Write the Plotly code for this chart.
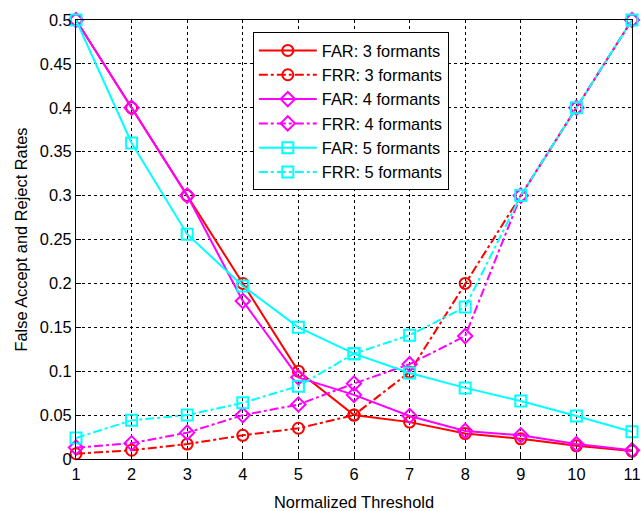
import plotly.graph_objects as go

thresholds = [1, 2, 3, 4, 5, 6, 7, 8, 9, 10, 11]
far3 = [0.5, 0.4, 0.3, 0.2, 0.1, 0.05, 0.042, 0.029, 0.023, 0.015, 0.009]
frr3 = [0.006, 0.010, 0.017, 0.027, 0.035, 0.05, 0.099, 0.2, 0.3, 0.4, 0.5]
far4 = [0.5, 0.4, 0.3, 0.18, 0.093, 0.073, 0.049, 0.032, 0.027, 0.017, 0.010]
frr4 = [0.013, 0.018, 0.030, 0.050, 0.062, 0.086, 0.108, 0.14, 0.3, 0.4, 0.5]
far5 = [0.5, 0.36, 0.256, 0.197, 0.15, 0.12, 0.098, 0.081, 0.066, 0.049, 0.031]
frr5 = [0.024, 0.044, 0.050, 0.064, 0.083, 0.12, 0.141, 0.173, 0.3, 0.4, 0.5]
ytick_vals = [0, 0.05, 0.1, 0.15, 0.2, 0.25, 0.3, 0.35, 0.4, 0.45, 0.5]
ytick_text = ["0", "0.05", "0.1", "0.15", "0.2", "0.25", "0.3", "0.35", "0.4", "0.45", "0.5"]

series = [
    ("FAR: 3 formants", far3, "red", "solid", "circle-open"),
    ("FRR: 3 formants", frr3, "red", "dashdot", "circle-open"),
    ("FAR: 4 formants", far4, "magenta", "solid", "diamond-open"),
    ("FRR: 4 formants", frr4, "magenta", "dashdot", "diamond-open"),
    ("FAR: 5 formants", far5, "cyan", "solid", "square-open"),
    ("FRR: 5 formants", frr5, "cyan", "dashdot", "square-open"),
]

FONT = "Liberation Sans, Arial, sans-serif"
FS = 16.4

fig = go.Figure()
for name, ys, col, dash, sym in series:
    fig.add_trace(go.Scatter(
        x=thresholds, y=ys, name=name, mode="lines+markers",
        line=dict(color=col, width=2, dash=dash),
        marker=dict(symbol=sym, size=11, color=col, line=dict(width=2, color=col)),
        cliponaxis=False,
    ))

axis_common = dict(
    showline=True, linecolor="black", linewidth=1, mirror=True,
    showgrid=True, gridcolor="black", griddash="dot", gridwidth=1,
    ticks="inside", ticklen=5, tickcolor="black",
    zeroline=False, automargin=False,
    tickfont=dict(family=FONT, size=FS, color="black"),
)

fig.update_layout(
    width=641, height=511,
    margin=dict(l=76, r=9, t=20, b=52),
    paper_bgcolor="white", plot_bgcolor="white",
    font=dict(family=FONT, color="black", size=FS),
    xaxis=dict(range=[1, 11], tickvals=thresholds,
               title=dict(text="Normalized Threshold", font=dict(size=FS), standoff=14),
               **axis_common),
    yaxis=dict(range=[0, 0.5], tickvals=ytick_vals, ticktext=ytick_text,
               title=dict(text="False Accept and Reject Rates", font=dict(size=FS), standoff=8),
               **axis_common),
    legend=dict(x=0.318, y=0.972, xanchor="left", yanchor="top",
                bgcolor="white", bordercolor="black", borderwidth=1,
                font=dict(size=FS), tracegroupgap=0, itemwidth=58),
    showlegend=True,
)

fig.write_html("out.html")
